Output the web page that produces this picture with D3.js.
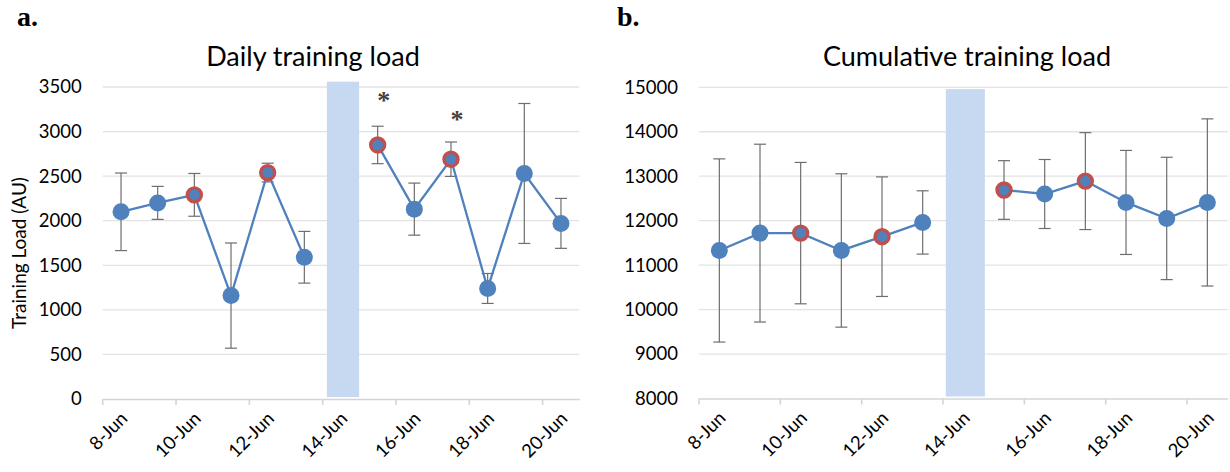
<!DOCTYPE html>
<html>
<head>
<meta charset="utf-8">
<script src="https://cdn.jsdelivr.net/npm/d3@7"></script>
<style>
  html, body { margin: 0; padding: 0; background: #fff; }
  svg { display: block; }
</style>
</head>
<body>
<svg id="chart" width="1230" height="472"></svg>
<script>
// ---------------- DATA ----------------
const days = ["8-Jun","9-Jun","10-Jun","11-Jun","12-Jun","13-Jun","14-Jun","15-Jun","16-Jun","17-Jun","18-Jun","19-Jun","20-Jun"];
const tickLabelDays = ["8-Jun","10-Jun","12-Jun","14-Jun","16-Jun","18-Jun","20-Jun"];

const dailyMean = [2100, 2200, 2290, 1160, 2540, 1590, null, 2850, 2130, 2690, 1240, 2530, 1970];
const dailySD   = [ 435,  185,  240,  590,  105,  290, null,  210,  292,  193,  168,  785,  280];
const dailyTicks = [0, 500, 1000, 1500, 2000, 2500, 3000, 3500];
const dailyBarValue = 3560;

const cumMean = [11330, 11720, 11720, 11330, 11640, 11960, null, 12690, 12600, 12890, 12410, 12050, 12410];
const cumSD   = [ 2060,  2000,  1590,  1725,  1345,   712, null,   660,   776,  1090,  1170,  1376,  1880];
const cumTicks = [8000, 9000, 10000, 11000, 12000, 13000, 14000, 15000];
const cumBarValue = 14960;

const barDay = "14-Jun";
const highlightedDays = ["10-Jun", "12-Jun", "15-Jun", "17-Jun"];
const starDays = ["15-Jun", "17-Jun"];
const starValues = [3430, 3220];

// ---------------- STYLE ----------------
const BLUE = "#4F81BD", RED = "#C0504D", BAR = "#C6D9F1", GRID = "#E3E3E3", AXIS = "#D4D4D4", ERR = "#6E6E6E";
const FONT = "Lato, 'Open Sans', sans-serif";

const svg = d3.select("#chart");
svg.append("rect").attr("width", 1230).attr("height", 472).attr("fill", "#fff");

function panel(cfg) {
  const x = d3.scaleBand().domain(days).range([cfg.left, cfg.right]).padding(0);
  const y = d3.scaleLinear().domain(cfg.domain).range([cfg.bottom, cfg.top]);
  const g = svg.append("g");

  // gridlines
  g.append("g").selectAll("line").data(cfg.ticks.slice(1)).join("line")
    .attr("x1", cfg.left).attr("x2", cfg.right)
    .attr("y1", d => y(d)).attr("y2", d => y(d))
    .attr("stroke", GRID).attr("stroke-width", 1.3);

  // y axis labels
  const ya = g.append("g").attr("transform", `translate(${cfg.left},0)`)
    .call(d3.axisLeft(y).tickValues(cfg.ticks).tickSize(0).tickPadding(21).tickFormat(d3.format("d")));
  ya.select(".domain").remove();
  ya.selectAll("text").attr("font-family", FONT).attr("font-size", 18.5).attr("fill", "#000");

  // bar
  const bw = x.bandwidth() * cfg.barRatio;
  g.append("rect")
    .attr("x", x(barDay) + x.bandwidth() / 2 - bw / 2 + cfg.barShift)
    .attr("width", bw)
    .attr("y", y(cfg.barValue))
    .attr("height", y(cfg.domain[0]) - y(cfg.barValue) - 2)
    .attr("fill", BAR);

  // x axis
  const xa = g.append("g").attr("transform", `translate(0,${cfg.bottom})`)
    .call(d3.axisBottom(x).tickValues(tickLabelDays).tickSize(0).tickPadding(0));
  xa.select(".domain").attr("stroke", AXIS).attr("stroke-width", 1.6);
  xa.selectAll(".tick text")
    .attr("font-family", FONT).attr("font-size", 18.5).attr("fill", "#000")
    .attr("text-anchor", "end")
    .attr("y", 0).attr("dy", "0.35em")
    .attr("transform", "translate(3,16) rotate(-45)");
  // tick marks at category boundaries
  xa.append("g").selectAll("line").data(tickLabelDays).join("line")
    .attr("x1", d => x(d)).attr("x2", d => x(d))
    .attr("y1", 0).attr("y2", 6)
    .attr("stroke", AXIS).attr("stroke-width", 1.6);

  const pts = days.map((d, i) => ({ day: d, v: cfg.mean[i], sd: cfg.sd[i] })).filter(p => p.v != null);
  const cx = d => x(d) + x.bandwidth() / 2;

  // error bars
  const eb = g.append("g").attr("stroke", ERR).attr("stroke-width", 1.2).attr("fill", "none");
  pts.forEach(p => {
    eb.append("line").attr("x1", cx(p.day)).attr("x2", cx(p.day)).attr("y1", y(p.v + p.sd)).attr("y2", y(p.v - p.sd));
    [p.v + p.sd, p.v - p.sd].forEach(v => {
      eb.append("line").attr("x1", cx(p.day) - 6).attr("x2", cx(p.day) + 6).attr("y1", y(v)).attr("y2", y(v));
    });
  });

  // line with gap
  const line = d3.line().defined(d => d.v != null).x(d => cx(d.day)).y(d => y(d.v));
  g.append("path")
    .datum(days.map((d, i) => ({ day: d, v: cfg.mean[i] })))
    .attr("d", line).attr("fill", "none").attr("stroke", BLUE).attr("stroke-width", 2.3);

  // markers
  g.append("g").selectAll("circle").data(pts).join("circle")
    .attr("cx", d => cx(d.day)).attr("cy", d => y(d.v))
    .attr("r", d => highlightedDays.includes(d.day) ? 7 : 8.5)
    .attr("fill", BLUE)
    .attr("stroke", d => highlightedDays.includes(d.day) ? RED : "none")
    .attr("stroke-width", 3.4);

  // title
  svg.append("text").attr("x", cfg.titleX).attr("y", 66).attr("text-anchor", "middle")
    .attr("font-family", FONT).attr("font-size", 27).attr("fill", "#000").text(cfg.title);
  // panel letter
  svg.append("text").attr("x", cfg.letterX).attr("y", 26)
    .attr("font-family", "'Liberation Serif', 'Times New Roman', serif").attr("font-weight", "bold")
    .attr("font-size", 28).attr("fill", "#000").text(cfg.letter);

  return { x, y, g, cx };
}

const a = panel({
  left: 102.7, right: 579.3, top: 87, bottom: 399, domain: [0, 3500], ticks: dailyTicks,
  mean: dailyMean, sd: dailySD, barValue: dailyBarValue, barRatio: 0.88, barShift: 2,
  title: "Daily training load", titleX: 313, letter: "a.", letterX: 17
});
const b = panel({
  left: 699, right: 1227.7, top: 87.3, bottom: 398.5, domain: [8000, 15000], ticks: cumTicks,
  mean: cumMean, sd: cumSD, barValue: cumBarValue, barRatio: 0.96, barShift: 2,
  title: "Cumulative training load", titleX: 967, letter: "b.", letterX: 617
});

// asterisks (daily panel)
a.g.append("g").selectAll("text").data(starDays).join("text")
  .attr("x", d => a.cx(d) + 6)
  .attr("y", (d, i) => a.y(starValues[i]))
  .attr("dy", "0.62em")
  .attr("text-anchor", "middle")
  .attr("font-family", "'Liberation Serif', serif").attr("font-weight", "bold")
  .attr("font-size", 26).attr("fill", "#404040").text("*");

// y axis title
svg.append("text")
  .attr("transform", "translate(26,253) rotate(-90)")
  .attr("text-anchor", "middle")
  .attr("font-family", FONT).attr("font-size", 19).attr("fill", "#000")
  .text("Training Load (AU)");
</script>
</body>
</html>
